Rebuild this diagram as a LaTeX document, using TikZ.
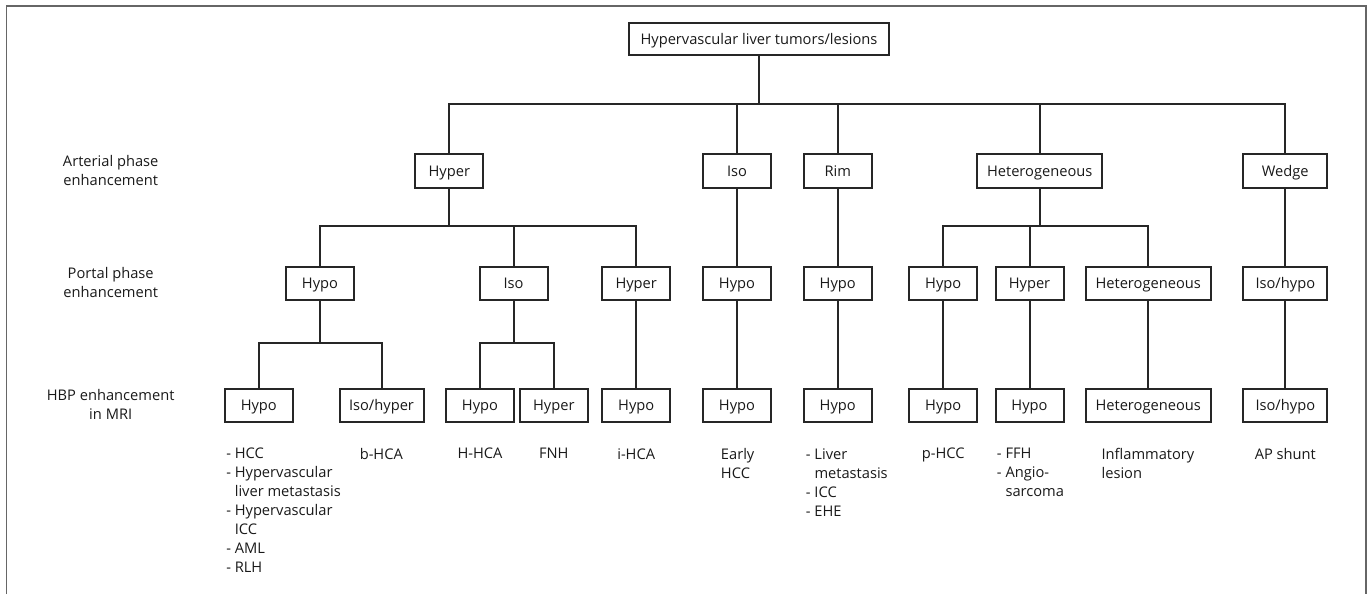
\documentclass[tikz,border=0pt]{standalone}
\usepackage{fontspec}
\setmainfont{Open Sans}
\begin{document}
\begin{tikzpicture}[x=0.75pt,y=-0.75pt,
  every node/.style={font=\fontsize{11}{14.25}\selectfont, text=black!90},
  box/.style={draw=black!85, line width=1.5pt, minimum height=25pt, inner sep=0pt, minimum width=51pt, text height=7.9pt, text depth=0pt},
  wbox/.style={box, minimum width=63pt},
  hbox/.style={box, minimum width=94pt},
  link/.style={draw=black!85, line width=1.5pt},
  lbl/.style={inner sep=0pt, align=left, anchor=north west},
  clbl/.style={inner sep=0pt, align=center, anchor=north},
  side/.style={inner sep=0pt, align=center}]
\useasboundingbox (0,0) rectangle (1370,594);
\draw[black!60, line width=1.1pt] (6.5,594) -- (6.5,6) -- (1366,6) -- (1366,594);
% root
\node[box, minimum width=195pt, minimum height=24.5pt] (root) at (759,39) {Hypervascular liver tumors/lesions};
% level 1
\node[box] (hA) at (449.3,171) {Hyper};
\node[box] (iA) at (737,171) {Iso};
\node[box] (rA) at (837.7,171) {Rim};
\node[hbox] (tA) at (1039.7,171) {Heterogeneous};
\node[wbox] (wA) at (1285.3,171) {Wedge};
% level 2
\node[box] (hpB) at (320,283.5) {Hypo};
\node[box] (isB) at (513.5,283.5) {Iso};
\node[box] (hrB) at (636.2,283.5) {Hyper};
\node[box] (iB) at (737,283.5) {Hypo};
\node[box] (rB) at (837.7,283.5) {Hypo};
\node[box] (t1B) at (943.2,283.5) {Hypo};
\node[box] (t2B) at (1029.5,283.5) {Hyper};
\node[hbox] (t3B) at (1148.2,283.5) {Heterogeneous};
\node[wbox] (wB) at (1285.3,283.5) {Iso/hypo};
% level 3
\node[box] (c1) at (258.8,405.3) {Hypo};
\node[wbox] (c2) at (381.5,405.3) {Iso/hyper};
\node[box] (c3) at (480,405.3) {Hypo};
\node[box] (c4) at (553.8,405.3) {Hyper};
\node[box] (c5) at (636.2,405.3) {Hypo};
\node[box] (c6) at (737,405.3) {Hypo};
\node[box] (c7) at (837.7,405.3) {Hypo};
\node[box] (c8) at (943.2,405.3) {Hypo};
\node[box] (c9) at (1029.5,405.3) {Hypo};
\node[hbox] (c10) at (1148.2,405.3) {Heterogeneous};
\node[wbox] (c11) at (1285.3,405.3) {Iso/hypo};
% buses
\coordinate (b1) at (759,103.7);
\coordinate (b2) at (449.3,226.3);
\coordinate (b2t) at (1039.7,226.3);
\coordinate (b3) at (320,343);
\coordinate (b3i) at (513.5,343);
% connectors
\draw[link] (root.south) -- (root.south |- b1);
\draw[link] (hA.north) |- (wA.north |- b1) -- (wA.north);
\draw[link] (iA.north) -- (iA.north |- b1);
\draw[link] (rA.north) -- (rA.north |- b1);
\draw[link] (tA.north) -- (tA.north |- b1);
\draw[link] (hA.south) -- (hA.south |- b2);
\draw[link] (hpB.north) |- (hrB.north |- b2) -- (hrB.north);
\draw[link] (isB.north) -- (isB.north |- b2);
\draw[link] (iA) -- (iB);
\draw[link] (rA) -- (rB);
\draw[link] (tA.south) -- (tA.south |- b2t);
\draw[link] (t1B.north) |- (t3B.north |- b2t) -- (t3B.north);
\draw[link] (t2B.north) -- (t2B.north |- b2t);
\draw[link] (wA) -- (wB);
\draw[link] (hpB.south) -- (hpB.south |- b3);
\draw[link] (c1.north) |- (c2.north |- b3) -- (c2.north);
\draw[link] (isB.south) -- (isB.south |- b3i);
\draw[link] (c3.north) |- (c4.north |- b3i) -- (c4.north);
\draw[link] (hrB) -- (c5);
\draw[link] (iB) -- (c6);
\draw[link] (rB) -- (c7);
\draw[link] (t1B) -- (c8);
\draw[link] (t2B) -- (c9);
\draw[link] (t3B) -- (c10);
\draw[link] (wB) -- (c11);
% side labels
\node[side] (sA) at (110.7,170.5) {Arterial phase\\enhancement};
\node[side] (sP) at (110.7,282) {Portal phase\\enhancement};
\node[side] (sH) at (110.7,404) {HBP enhancement\\in MRI};
% result labels
\node[lbl] (d1) at (226,448) {- HCC\\- Hypervascular\\\phantom{- }liver metastasis\\- Hypervascular\\\phantom{- }ICC\\- AML\\- RLH};
\node[clbl] (d2) at (381.3,448) {b-HCA};
\node[clbl] (d3) at (480,448) {H-HCA};
\node[clbl] (d4) at (553.8,448) {FNH};
\node[clbl] (d5) at (636.2,448) {i-HCA};
\node[lbl] (d6) at (720.7,448) {Early\\HCC};
\node[lbl] (d7) at (805.7,448) {- Liver\\\phantom{- }metastasis\\- ICC\\- EHE};
\node[clbl] (d8) at (943.2,448) {p-HCC};
\node[lbl] (d9) at (996.7,448) {- FFH\\- Angio-\\\phantom{- }sarcoma};
\node[lbl] (d10) at (1101.3,448) {Inflammatory\\lesion};
\node[clbl] (d11) at (1285.3,448) {AP shunt};
\end{tikzpicture}
\end{document}
